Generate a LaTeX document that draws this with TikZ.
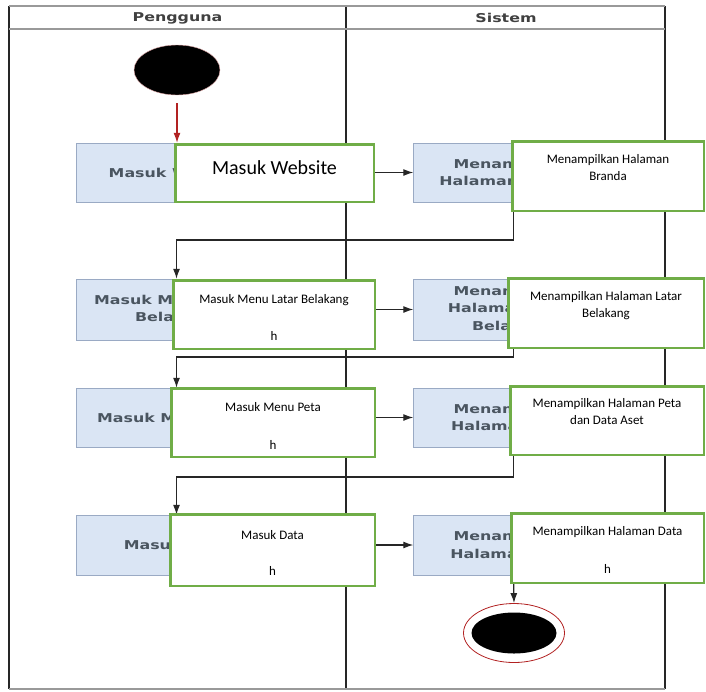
\documentclass[tikz,border=0pt]{standalone}
\usepackage{fontspec}
\setmainfont{Carlito}
\newfontfamily\lanefont[FakeStretch=1.3]{DejaVu Sans}
\usetikzlibrary{arrows.meta}
\usetikzlibrary{shapes.geometric}

\definecolor{boxblue}{HTML}{DAE5F4}
\definecolor{boxedge}{HTML}{9AAAC4}
\definecolor{lanetext}{HTML}{4A5560}
\definecolor{notegreen}{HTML}{70AD47}
\definecolor{startred}{HTML}{B22222}

\begin{document}
\begin{tikzpicture}[x=1pt, y=-1pt,
    lane/.style={draw=black!85, line width=1.5pt},
    laneedge/.style={draw=black!40, line width=2pt},
    lanetitle/.style={font=\lanefont\bfseries\fontsize{12.2}{15}\selectfont, text=black!75},
    bluebox/.style={draw=boxedge, fill=boxblue, minimum width=200pt, inner sep=0pt,
        align=center, text=lanetext, font=\lanefont\bfseries\fontsize{12.2}{17.5}\selectfont},
    greenbox/.style={draw=notegreen, line width=2.5pt, fill=white, inner sep=0pt,
        align=center, font=\fontsize{13}{17}\selectfont},
    flow/.style={draw=black!85, line width=1.2pt, -{Latex[length=10pt,width=7pt]}},
    startflow/.style={draw=startred, line width=1.2pt, -{Latex[length=10pt,width=7pt]}}
]
    \useasboundingbox (0,0) rectangle (706,691);

    % Draw the swimlanes
    \draw[lane] (9,6) -- (9,689);
    \draw[lane] (346,6) -- (346,689);
    \draw[lane] (665,6) -- (665,689);
    \draw[laneedge] (9,6) -- (665,6);
    \draw[laneedge] (9,29) -- (665,29);
    \draw[laneedge] (9,689) -- (665,689);
    \node[lanetitle] (pengguna) at (177.5,18) {Pengguna};
    \node[lanetitle] (sistem) at (506,18) {Sistem};

    % Start and end
    \node[ellipse, fill=black, draw=startred!40, minimum width=86pt, minimum height=50pt] (start) at (177,70) {};
    \node[ellipse, draw=startred, line width=0.8pt, fill=white, minimum width=101pt, minimum height=59pt] (finish) at (514,633) {};
    \node[ellipse, fill=black, minimum width=85pt, minimum height=41pt] (finishdot) at (finish.center) {};

    % Activities
    \node[bluebox, minimum height=59pt] (pb1) at (176.5,172.5) {Masuk Website};
    \node[bluebox, minimum height=61pt] (pb2) at (176.5,309.5) {Masuk Menu Latar\\Belakang};
    \node[bluebox, minimum height=59pt] (pb3) at (176.5,417.5) {Masuk Menu Peta};
    \node[bluebox, minimum height=60pt] (pb4) at (176.5,545) {Masuk Data};
    \node[bluebox, minimum height=59pt] (sb1) at (513.5,172.5) {Menampilkan\\Halaman Branda};
    \node[bluebox, minimum height=61pt] (sb2) at (513.5,309.5) {Menampilkan\\Halaman Latar\\Belakang};
    \node[bluebox, minimum height=59pt] (sb3) at (513.5,417.5) {Menampilkan\\Halaman Peta};
    \node[bluebox, minimum height=60pt] (sb4) at (513.5,545) {Menampilkan\\Halaman Data};

    % Connectors
    \coordinate (ret1) at (513.5,240);
    \coordinate (ret2) at (513.5,357);
    \coordinate (ret3) at (513.5,477);
    \draw[startflow, shorten <=8pt] (start.south) -- (start.south |- pb1.north);
    \draw[flow] (pb1.east) -- (sb1.west);
    \draw[flow] (pb2.east) -- (sb2.west);
    \draw[flow] (pb3.east) -- (sb3.west);
    \draw[flow] (pb4.east) -- (sb4.west);
    \draw[flow] (sb1.south) -- (ret1) -- (ret1 -| pb2.north) -- (pb2.north);
    \draw[flow] (sb2.south) -- (ret2) -- (ret2 -| pb3.north) -- (pb3.north);
    \draw[flow] (sb3.south) -- (ret3) -- (ret3 -| pb4.north) -- (pb4.north);
    \draw[flow] (sb4.south) -- (finish.north);

    % Notes on top
    \node[greenbox, minimum width=198.5pt, minimum height=57.5pt, font=\fontsize{20}{24}\selectfont, text depth=11pt] (pg1) at (274.5,173) {Masuk Website};
    \node[greenbox, minimum width=201.5pt, minimum height=68.5pt, text height=52pt, text depth=0pt] (pg2) at (274,314.5) {Masuk Menu Latar Belakang\\[20pt]h};
    \node[greenbox, minimum width=203.5pt, minimum height=68.5pt, text height=54pt, text depth=0pt] (pg3) at (273,422.5) {Masuk Menu Peta\\[21pt]h};
    \node[greenbox, minimum width=204.5pt, minimum height=71.5pt, text height=51pt, text depth=0pt] (pg4) at (272.5,550) {Masuk Data\\[19pt]h};
    \node[greenbox, minimum width=191.5pt, minimum height=69.5pt, text depth=17.5pt] (sg1) at (608,176) {Menampilkan Halaman\\Branda};
    \node[greenbox, minimum width=195.5pt, minimum height=69.5pt, text depth=17.5pt] (sg2) at (606,313) {Menampilkan Halaman Latar\\Belakang};
    \node[greenbox, minimum width=193.5pt, minimum height=68.5pt, text depth=17.5pt] (sg3) at (607,420.5) {Menampilkan Halaman Peta\\dan Data Aset};
    \node[greenbox, minimum width=192.5pt, minimum height=69.5pt, text height=51pt, text depth=0pt] (sg4) at (607.5,548) {Menampilkan Halaman Data\\[21pt]h};
\end{tikzpicture}
\end{document}
